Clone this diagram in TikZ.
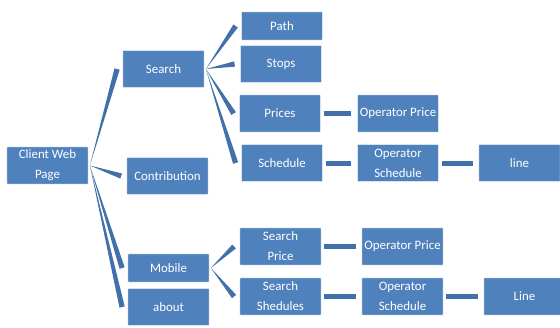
\documentclass[tikz,border=0pt]{standalone}
\usepackage{fontspec}
\setmainfont{Carlito}
\usetikzlibrary{calc}
\definecolor{tileblue}{RGB}{79,129,189}
\definecolor{linkblue}{RGB}{66,112,170}
\tikzset{
  tile/.style={fill=tileblue, draw=white, line width=0.4pt, rounded corners=0.6pt,
    minimum width=2.44cm, minimum height=1.12cm, inner sep=0pt, align=center,
    text=white, font=\fontsize{11}{17}\selectfont},
  thin tile/.style={tile, minimum height=0.85cm},
  link/.style={draw=linkblue, line width=0.15cm, shorten <=0.09cm, shorten >=0.17cm}
}
% tapered connector from the right of a parent to the left of a child
\newcommand{\taper}[2]{%
  \path ($(#1.east)+(1.5,0)$) coordinate (tA) ($(#2.west)+(-5.5,0)$) coordinate (tB);
  \fill[linkblue] (tA) -- ($(tB)!0.08cm!90:(tA)$) -- ($(tB)!0.08cm!-90:(tA)$) -- cycle;}

\begin{document}
\begin{tikzpicture}[x=0.03cm, y=-0.03cm]
        \useasboundingbox (0,0) rectangle (560,327);
        \node[tile] (client) at (47.5,165.5) {Client Web\\Page};
        \node[tile] (search) at (163.5,69) {Search};
        \node[tile] (contrib) at (167.5,176) {Contribution};
        \node[thin tile] (mobile) at (168.5,268) {Mobile};
        \node[tile] (about) at (168.5,307) {about};
        \node[thin tile] (path) at (282,26) {Path};
        \node[tile] (stops) at (281,64) {Stops};
        \node[tile] (prices) at (280,113.5) {Prices};
        \node[tile] (sched) at (282,163) {Schedule};
        \node[tile] (oprice) at (398,113.5) {Operator Price};
        \node[tile] (osched) at (398,163) {Operator\\Schedule};
        \node[tile] (line) at (519.5,163) {line};
        \node[tile] (sprice) at (280.5,246.5) {Search\\Price};
        \node[tile] (ssched) at (280.5,296.5) {Search\\Shedules};
        \node[tile] (mprice) at (402.5,246.5) {Operator Price};
        \node[tile] (msched) at (402.5,296.5) {Operator\\Schedule};
        \node[tile] (mline) at (524.5,296.5) {Line};
        \taper{client}{search}
        \taper{client}{contrib}
        \taper{client}{mobile}
        \taper{client}{about}
        \taper{search}{path}
        \taper{search}{stops}
        \taper{search}{prices}
        \taper{search}{sched}
        \taper{mobile}{sprice}
        \taper{mobile}{ssched}
        \draw[link] (prices) -- (oprice);
        \draw[link] (sched) -- (osched);
        \draw[link] (osched) -- (line);
        \draw[link] (sprice) -- (mprice);
        \draw[link] (ssched) -- (msched);
        \draw[link] (msched) -- (mline);
    \end{tikzpicture}
\end{document}
